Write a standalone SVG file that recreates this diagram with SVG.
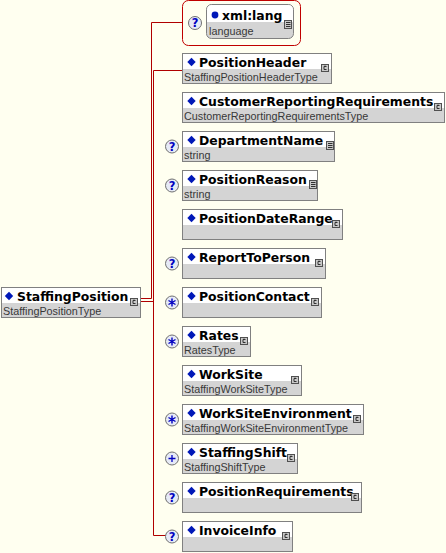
<svg xmlns="http://www.w3.org/2000/svg" width="446" height="553" viewBox="0 0 446 553">
<defs>
<style>
.bg{fill:#FFFFF0}
.box{fill:#FFFFFF;stroke:#808080;stroke-width:1}
.trow{fill:#D4D4D4}
.nm{font-family:"DejaVu Sans",sans-serif;font-weight:bold;font-size:12.4px;fill:#000}
.ty{font-family:"Liberation Sans",Arial,sans-serif;font-size:10.8px;fill:#383838}
.dia{fill:#0018B8}
.ln{fill:none;stroke:#B00000;stroke-width:1}
.occ{fill:#E6EAF6;stroke:#707070;stroke-width:1}
.occt{font-family:"DejaVu Sans",sans-serif;font-weight:bold;font-size:11.5px;fill:#0000C0;text-anchor:middle}
.ic{fill:#C8C8C8;stroke:#505050;stroke-width:1}
.icl{fill:none;stroke:#303030;stroke-width:1}
</style>
<g id="cicon"><rect class="ic" x="0.5" y="0.5" width="7" height="7"/><path class="icl" d="M5.5 2.5 H3 V5.5 H5.5 M4 1.5 V3"/></g>
<g id="sicon"><rect class="ic" x="0.5" y="0.5" width="7" height="8"/><path class="icl" d="M2 2.5 H6.5 M2 4.5 H6.5 M2 6.5 H6.5"/></g>
<g id="qm"><circle class="occ" cx="0" cy="0" r="6.5"/><text class="occt" x="0" y="4.3">?</text></g>
<g id="st"><circle class="occ" cx="0" cy="0" r="6.5"/><path d="M0 -4 V4 M-3.5 -2 L3.5 2 M-3.5 2 L3.5 -2" stroke="#0000C0" stroke-width="1.4"/></g>
<g id="pl"><circle class="occ" cx="0" cy="0" r="6.5"/><path d="M0 -3.5 V3.5 M-3.5 0 H3.5" stroke="#0000C0" stroke-width="1.3"/></g>
<path id="dm" class="dia" d="M0 -4.2 L4.2 0 L0 4.2 L-4.2 0 Z"/>
</defs>
<rect class="bg" x="0" y="0" width="446" height="553"/>

<g id="connectors">
<path class="ln" d="M141 298.5 H151.5 V22.5 H182"/>
<path class="ln" d="M141 301.5 H153.5"/>
<path class="ln" d="M182 70.5 H153.5 V535.5 H166"/>
</g>

<g id="xml-lang">
<rect x="182.5" y="0.5" width="118" height="45" rx="6" fill="none" stroke="#C00000"/>
<use href="#qm" x="195" y="23"/>
<rect x="206.5" y="4.5" width="87" height="34" rx="5" fill="#D4D4D4" stroke="#808080"/>
<path d="M207 22 V10 Q207 5 212 5 H288 Q293 5 293 10 V22 Z" fill="#FFFFFF"/>
<circle cx="215" cy="15" r="3.4" fill="#0018B8"/>
<text class="nm" x="222" y="20">xml:lang</text>
<use href="#sicon" x="284" y="20"/>
<text class="ty" x="209" y="35">language</text>
</g>

<g id="StaffingPosition">
<rect class="box" x="1.5" y="287.5" width="139" height="30"/>
<rect class="trow" x="2" y="303" width="138" height="14"/>
<use href="#dm" x="9" y="296"/>
<text class="nm" x="17" y="301">StaffingPosition</text>
<text class="ty" x="3" y="315">StaffingPositionType</text>
<use href="#cicon" x="130" y="298"/>
</g>

<g id="PositionHeader">
<rect class="box" x="182.5" y="53.5" width="149" height="30"/>
<rect class="trow" x="183" y="69" width="148" height="14"/>
<use href="#dm" x="191.5" y="62"/>
<text class="nm" x="199" y="67">PositionHeader</text>
<text class="ty" x="184" y="81">StaffingPositionHeaderType</text>
<use href="#cicon" x="321" y="64"/>
</g>

<g id="CustomerReportingRequirements">
<rect class="box" x="182.5" y="92.5" width="262" height="30"/>
<rect class="trow" x="183" y="108" width="261" height="14"/>
<use href="#dm" x="191.5" y="101"/>
<text class="nm" x="199" y="106">CustomerReportingRequirements</text>
<text class="ty" x="184" y="120">CustomerReportingRequirementsType</text>
<use href="#cicon" x="434" y="103"/>
</g>

<g id="DepartmentName">
<use href="#qm" x="172" y="146.5"/>
<rect class="box" x="182.5" y="131.5" width="152" height="30"/>
<rect class="trow" x="183" y="147" width="151" height="14"/>
<use href="#dm" x="191.5" y="140"/>
<text class="nm" x="199" y="145">DepartmentName</text>
<text class="ty" x="184" y="159">string</text>
<use href="#sicon" x="326" y="141"/>
</g>

<g id="PositionReason">
<use href="#qm" x="172" y="185.5"/>
<rect class="box" x="182.5" y="170.5" width="135" height="30"/>
<rect class="trow" x="183" y="186" width="134" height="14"/>
<use href="#dm" x="191.5" y="179"/>
<text class="nm" x="199" y="184">PositionReason</text>
<text class="ty" x="184" y="198">string</text>
<use href="#sicon" x="309" y="180"/>
</g>

<g id="PositionDateRange">
<rect class="box" x="182.5" y="209.5" width="160" height="30"/>
<rect class="trow" x="183" y="225" width="159" height="14"/>
<use href="#dm" x="191.5" y="218"/>
<text class="nm" x="199" y="223">PositionDateRange</text>
<use href="#cicon" x="332" y="220"/>
</g>

<g id="ReportToPerson">
<use href="#qm" x="172" y="263.5"/>
<rect class="box" x="182.5" y="248.5" width="143" height="30"/>
<rect class="trow" x="183" y="264" width="142" height="14"/>
<use href="#dm" x="191.5" y="257"/>
<text class="nm" x="199" y="262">ReportToPerson</text>
<use href="#cicon" x="315" y="259"/>
</g>

<g id="PositionContact">
<use href="#st" x="172" y="302.5"/>
<rect class="box" x="182.5" y="287.5" width="139" height="30"/>
<rect class="trow" x="183" y="303" width="138" height="14"/>
<use href="#dm" x="191.5" y="296"/>
<text class="nm" x="199" y="301">PositionContact</text>
<use href="#cicon" x="311" y="298"/>
</g>

<g id="Rates">
<use href="#st" x="172" y="341.5"/>
<rect class="box" x="182.5" y="326.5" width="68" height="30"/>
<rect class="trow" x="183" y="342" width="67" height="14"/>
<use href="#dm" x="191.5" y="335"/>
<text class="nm" x="199" y="340">Rates</text>
<text class="ty" x="184" y="354">RatesType</text>
<use href="#cicon" x="240" y="337"/>
</g>

<g id="WorkSite">
<rect class="box" x="182.5" y="365.5" width="119" height="30"/>
<rect class="trow" x="183" y="381" width="118" height="14"/>
<use href="#dm" x="191.5" y="374"/>
<text class="nm" x="199" y="379">WorkSite</text>
<text class="ty" x="184" y="393">StaffingWorkSiteType</text>
<use href="#cicon" x="291" y="376"/>
</g>

<g id="WorkSiteEnvironment">
<use href="#st" x="172" y="419.5"/>
<rect class="box" x="182.5" y="404.5" width="181" height="30"/>
<rect class="trow" x="183" y="420" width="180" height="14"/>
<use href="#dm" x="191.5" y="413"/>
<text class="nm" x="199" y="418">WorkSiteEnvironment</text>
<text class="ty" x="184" y="432">StaffingWorkSiteEnvironmentType</text>
<use href="#cicon" x="353" y="415"/>
</g>

<g id="StaffingShift">
<use href="#pl" x="172" y="458.5"/>
<rect class="box" x="182.5" y="443.5" width="115" height="30"/>
<rect class="trow" x="183" y="459" width="114" height="14"/>
<use href="#dm" x="191.5" y="452"/>
<text class="nm" x="199" y="457">StaffingShift</text>
<text class="ty" x="184" y="471">StaffingShiftType</text>
<use href="#cicon" x="287" y="454"/>
</g>

<g id="PositionRequirements">
<use href="#qm" x="172" y="497.5"/>
<rect class="box" x="182.5" y="482.5" width="179" height="30"/>
<rect class="trow" x="183" y="498" width="178" height="14"/>
<use href="#dm" x="191.5" y="491"/>
<text class="nm" x="199" y="496">PositionRequirements</text>
<use href="#cicon" x="351" y="493"/>
</g>

<g id="InvoiceInfo">
<use href="#qm" x="172" y="536.5"/>
<rect class="box" x="182.5" y="521.5" width="110" height="30"/>
<rect class="trow" x="183" y="537" width="109" height="14"/>
<use href="#dm" x="191.5" y="530"/>
<text class="nm" x="199" y="535">InvoiceInfo</text>
<use href="#cicon" x="282" y="532"/>
</g>
</svg>
